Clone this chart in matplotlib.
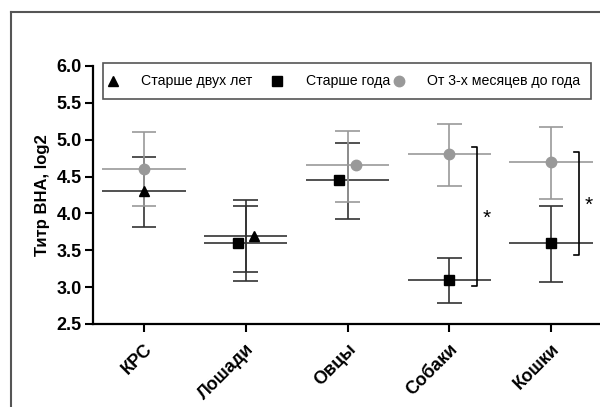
import numpy as np
import matplotlib.pyplot as plt
from matplotlib.lines import Line2D
from matplotlib.patches import Rectangle

plt.rcParams['font.family'] = ['Liberation Sans', 'DejaVu Sans']

# data: mean value, upper and lower ends of the error bar (nan = no group)
categories = ['КРС', 'Лошади', 'Овцы', 'Собаки', 'Кошки']
series_names = ['Старше двух лет', 'Старше года', 'От 3-х месяцев до года']

older2_mean = [4.3, 3.7, np.nan, np.nan, np.nan]
older2_hi = [4.77, 4.18, np.nan, np.nan, np.nan]
older2_lo = [3.82, 3.21, np.nan, np.nan, np.nan]

older1_mean = [np.nan, 3.6, 4.45, 3.1, 3.6]
older1_hi = [np.nan, 4.1, 4.95, 3.4, 4.1]
older1_lo = [np.nan, 3.08, 3.93, 2.78, 3.07]

young_mean = [4.6, np.nan, 4.65, 4.8, 4.7]
young_hi = [5.1, np.nan, 5.12, 5.21, 5.17]
young_lo = [4.1, np.nan, 4.15, 4.37, 4.2]

# significance brackets: category, lower end, upper end
sig_cats = ['Собаки', 'Кошки']
sig_lo = [3.02, 3.44]
sig_hi = [4.9, 4.83]

dark = '#333333'
gray = '#999999'
styles = [
    dict(marker='^', mcolor='black', lcolor=dark),
    dict(marker='s', mcolor='black', lcolor=dark),
    dict(marker='o', mcolor=gray, lcolor=gray),
]
means = [older2_mean, older1_mean, young_mean]
his = [older2_hi, older1_hi, young_hi]
los = [older2_lo, older1_lo, young_lo]

fig = plt.figure(figsize=(6, 4.07), dpi=100)
ax = fig.add_axes([0.155, 0.204, 0.845, 0.634])
x = np.arange(len(categories))

# marker shifts where two groups nearly overlap
shift = np.zeros((3, len(categories)))
for j in range(len(categories)):
    present = [i for i in range(3) if not np.isnan(means[i][j])]
    if len(present) == 2:
        a, b = present
        if abs(means[a][j] - means[b][j]) < 0.25:
            lo_i = a if means[a][j] < means[b][j] else b
            hi_i = b if lo_i == a else a
            shift[lo_i, j] = -0.08
            shift[hi_i, j] = 0.08

for i in range(3):
    st = styles[i]
    m = np.array(means[i]); h = np.array(his[i]); l = np.array(los[i])
    ok = ~np.isnan(m)
    ax.hlines(m[ok], x[ok] - 0.41, x[ok] + 0.41, color=st['lcolor'], lw=1.2, zorder=2)
    ax.vlines(x[ok], l[ok], h[ok], color=st['lcolor'], lw=1.2, zorder=2)
    ax.hlines(h[ok], x[ok] - 0.12, x[ok] + 0.12, color=st['lcolor'], lw=1.2, zorder=2)
    ax.hlines(l[ok], x[ok] - 0.12, x[ok] + 0.12, color=st['lcolor'], lw=1.2, zorder=2)
    ax.plot(x[ok] + shift[i][ok], m[ok], linestyle='none', marker=st['marker'],
            color=st['mcolor'], markersize=7.5, zorder=3)

for c, lo, hi in zip(sig_cats, sig_lo, sig_hi):
    xc = categories.index(c) + 0.27
    ax.plot([xc - 0.05, xc, xc, xc - 0.05], [hi, hi, lo, lo], color='black', lw=1.2,
            clip_on=False)
    ax.text(xc + 0.1, (lo + hi) / 2 - 0.03, '*', fontsize=15, ha='center', va='center')

ax.set_xlim(-0.5, 4.48)
ax.set_ylim(2.5, 6.0)
ax.set_yticks(np.arange(2.5, 6.01, 0.5))
ax.set_yticklabels(['%.1f' % v for v in np.arange(2.5, 6.01, 0.5)], fontsize=13,
                   fontweight='bold')
ax.set_xticks(x)
ax.set_xticklabels(categories, rotation=45, ha='right', rotation_mode='anchor',
                   fontsize=13, fontweight='bold')
ax.tick_params(axis='both', length=6, width=1.5, direction='out')
ax.tick_params(axis='x', pad=6)
ax.tick_params(axis='y', pad=2)
for s in ['top', 'right']:
    ax.spines[s].set_visible(False)
for s in ['left', 'bottom']:
    ax.spines[s].set_linewidth(1.6)
ax.set_ylabel('Титр ВНА, log2', fontsize=12, fontweight='bold', labelpad=5)

# legend drawn by hand to keep the original spacing
ax.add_patch(Rectangle((0.0197, 0.872), 0.9623, 0.1396, transform=ax.transAxes,
                       facecolor='white', edgecolor='#555555', lw=1.2, clip_on=False,
                       zorder=5))
leg_mx = [0.039, 0.363, 0.604]
leg_tx = [0.0947, 0.42, 0.659]
for i in range(3):
    ax.plot(leg_mx[i], 0.942, transform=ax.transAxes, marker=styles[i]['marker'],
            color=styles[i]['mcolor'], markersize=7.5, clip_on=False, zorder=6)
    ax.text(leg_tx[i], 0.942, series_names[i], transform=ax.transAxes, fontsize=10.2,
            ha='left', va='center', zorder=6)

# outer frame
fig.add_artist(Line2D([11 / 600, 1.0], [1 - 12 / 407, 1 - 12 / 407], color='#555555', lw=1.5))
fig.add_artist(Line2D([11 / 600, 11 / 600], [0, 1 - 12 / 407], color='#555555', lw=1.5))

fig.savefig('out.png', dpi=100)
